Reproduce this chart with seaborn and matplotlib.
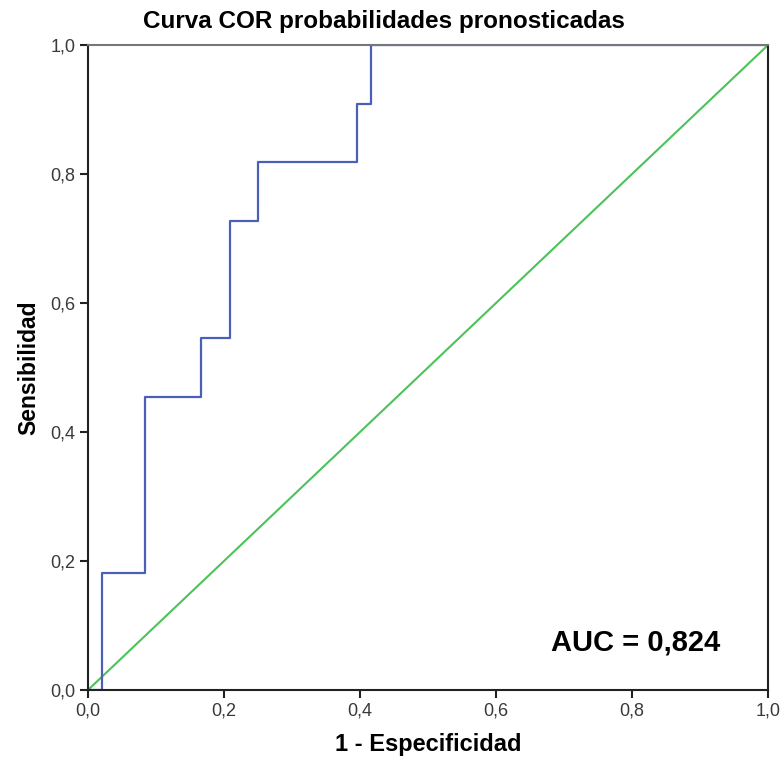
import matplotlib
matplotlib.use("Agg")
import matplotlib.pyplot as plt
import seaborn as sns
import pandas as pd

# ROC corner points (11 positives, 48 negatives)
fpr = [0.0, 0.0208, 0.0208, 0.0833, 0.0833, 0.1667, 0.1667, 0.2083, 0.2083,
       0.25, 0.25, 0.3958, 0.3958, 0.4167, 0.4167, 1.0]
tpr = [0.0, 0.0, 0.1818, 0.1818, 0.4545, 0.4545, 0.5455, 0.5455, 0.7273,
       0.7273, 0.8182, 0.8182, 0.9091, 0.9091, 1.0, 1.0]
ref_x = [0.0, 1.0]
ref_y = [0.0, 1.0]
ticks = [0.0, 0.2, 0.4, 0.6, 0.8, 1.0]
tick_labels = ["0,0", "0,2", "0,4", "0,6", "0,8", "1,0"]
auc_text = "AUC = 0,824"

sns.set_style("white")
plt.rcParams["font.family"] = ["Liberation Sans", "DejaVu Sans"]

fig = plt.figure(figsize=(7.81, 7.63), dpi=100)
ax = fig.add_axes([0.1127, 0.0957, 0.8707, 0.8453])

roc = pd.DataFrame({"fpr": fpr, "tpr": tpr})
ref = pd.DataFrame({"x": ref_x, "y": ref_y})

sns.lineplot(data=ref, x="x", y="y", sort=False, estimator=None,
             color="#4cc25a", lw=1.5, ax=ax)
sns.lineplot(data=roc, x="fpr", y="tpr", sort=False, estimator=None,
             color="#4a5fb8", lw=1.6, ax=ax)

ax.set_xlim(0, 1)
ax.set_ylim(0, 1)
ax.set_xticks(ticks)
ax.set_xticklabels(tick_labels)
ax.set_yticks(ticks)
ax.set_yticklabels(tick_labels)
ax.tick_params(axis="both", direction="out", length=6, width=1.5,
               color="#222222", labelsize=13, labelcolor="#3a3a3a", pad=3)
ax.tick_params(axis="x", bottom=True)
ax.tick_params(axis="y", left=True)

for side in ["left", "bottom", "right"]:
    ax.spines[side].set_color("#222222")
    ax.spines[side].set_linewidth(1.5)
ax.spines["top"].set_color("#777777")
ax.spines["top"].set_linewidth(1.5)

ax.set_xlabel("1 - Especificidad", fontsize=17, fontweight="bold",
              color="black", labelpad=10)
ax.set_ylabel("Sensibilidad", fontsize=16.5, fontweight="bold",
              color="black", labelpad=7)

fig.text(0.492, 0.972, "Curva COR probabilidades pronosticadas",
         ha="center", va="center", fontsize=17.5, fontweight="bold",
         color="black")
ax.text(0.929, 0.073, auc_text, transform=ax.transAxes, ha="right",
        va="center", fontsize=21, fontweight="bold", color="black")

fig.savefig("out.png", dpi=100)
plt.close(fig)
